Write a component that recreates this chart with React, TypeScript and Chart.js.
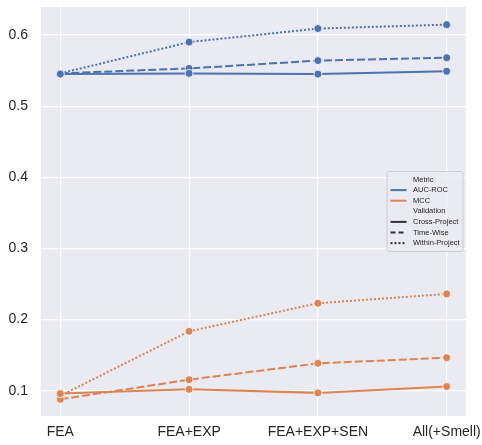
import React, { useEffect, useRef } from "react";
import { Chart, registerables } from "chart.js";

Chart.register(...registerables);

const categories = ["FEA", "FEA+EXP", "FEA+EXP+SEN", "All(+Smell)"];
const yTicks = [0.1, 0.2, 0.3, 0.4, 0.5, 0.6];

const aucCross = [0.545, 0.546, 0.545, 0.549];
const aucTime = [0.546, 0.553, 0.564, 0.568];
const aucWithin = [0.546, 0.59, 0.609, 0.6145];
const mccCross = [0.096, 0.102, 0.097, 0.106];
const mccTime = [0.088, 0.1155, 0.1385, 0.1465];
const mccWithin = [0.093, 0.1835, 0.223, 0.236];

const BLUE = "#4C72B0";
const ORANGE = "#DD8452";
const TEXT = "#262626";
const FONT = "'Liberation Sans', Arial, sans-serif";

const DASHED = [8, 3];
const DOTTED = [2, 2];

function series(label: string, values: number[], color: string, dash: number[]) {
  return {
    label,
    data: values.map((v, i) => ({ x: i, y: v })),
    borderColor: color,
    backgroundColor: color,
    borderWidth: 2,
    borderDash: dash,
    pointRadius: 4,
    pointBorderColor: "#ffffff",
    pointBorderWidth: 0.8,
    pointBackgroundColor: color,
    tension: 0,
  };
}

const bgPlugin = {
  id: "bgPlugin",
  beforeDraw(chart: any) {
    const { ctx, chartArea } = chart;
    ctx.save();
    ctx.fillStyle = "#EAEAF2";
    ctx.fillRect(chartArea.left, chartArea.top, chartArea.right - chartArea.left, chartArea.bottom - chartArea.top);
    ctx.restore();
  },
};

const legendItems: { text: string; color?: string; dash?: number[] }[] = [
  { text: "Metric" },
  { text: "AUC-ROC", color: BLUE, dash: [] },
  { text: "MCC", color: ORANGE, dash: [] },
  { text: "Validation" },
  { text: "Cross-Project", color: "#333333", dash: [] },
  { text: "Time-Wise", color: "#333333", dash: [5, 3] },
  { text: "Within-Project", color: "#333333", dash: [2, 2] },
];

const legendPlugin = {
  id: "customLegend",
  afterDraw(chart: any) {
    const { ctx, chartArea } = chart;
    const w = 76;
    const h = 80;
    const x = chartArea.right - 3 - w;
    const y = (chartArea.top + chartArea.bottom) / 2 - h / 2;
    ctx.save();
    ctx.globalAlpha = 0.8;
    ctx.fillStyle = "#EAEAF2";
    ctx.strokeStyle = "#CCCCCC";
    ctx.lineWidth = 1;
    ctx.beginPath();
    const r = 2;
    ctx.moveTo(x + r, y);
    ctx.lineTo(x + w - r, y);
    ctx.quadraticCurveTo(x + w, y, x + w, y + r);
    ctx.lineTo(x + w, y + h - r);
    ctx.quadraticCurveTo(x + w, y + h, x + w - r, y + h);
    ctx.lineTo(x + r, y + h);
    ctx.quadraticCurveTo(x, y + h, x, y + h - r);
    ctx.lineTo(x, y + r);
    ctx.quadraticCurveTo(x, y, x + r, y);
    ctx.closePath();
    ctx.fill();
    ctx.globalAlpha = 1;
    ctx.stroke();
    ctx.font = `7.5px ${FONT}`;
    ctx.textBaseline = "middle";
    ctx.fillStyle = TEXT;
    const rowH = 10.6;
    legendItems.forEach((it, i) => {
      const cy = y + 8 + i * rowH;
      if (it.color) {
        ctx.strokeStyle = it.color;
        ctx.lineWidth = 2;
        ctx.setLineDash(it.dash || []);
        ctx.beginPath();
        ctx.moveTo(x + 3.5, cy);
        ctx.lineTo(x + 19.5, cy);
        ctx.stroke();
        ctx.setLineDash([]);
      }
      ctx.fillStyle = TEXT;
      ctx.fillText(it.text, x + 26, cy);
    });
    ctx.restore();
  },
};

function zeroPad(scale: any) {
  scale.paddingTop = 0;
  scale.paddingBottom = 0;
  scale.paddingLeft = 0;
  scale.paddingRight = 0;
}

export default function App() {
  const ref = useRef<HTMLCanvasElement | null>(null);
  useEffect(() => {
    if (!ref.current) return;
    const chart = new Chart(ref.current, {
      type: "line",
      data: {
        datasets: [
          series("AUC-ROC Cross-Project", aucCross, BLUE, []),
          series("AUC-ROC Time-Wise", aucTime, BLUE, DASHED),
          series("AUC-ROC Within-Project", aucWithin, BLUE, DOTTED),
          series("MCC Cross-Project", mccCross, ORANGE, []),
          series("MCC Time-Wise", mccTime, ORANGE, DASHED),
          series("MCC Within-Project", mccWithin, ORANGE, DOTTED),
        ],
      },
      options: {
        responsive: false,
        animation: false,
        layout: { padding: { top: 7, right: 16, bottom: 0, left: 0 } },
        plugins: {
          legend: { display: false },
          tooltip: { enabled: false },
        },
        scales: {
          x: {
            type: "linear",
            min: -0.15,
            max: 3.15,
            afterBuildTicks: (scale: any) => {
              scale.ticks = categories.map((_, i) => ({ value: i }));
            },
            afterFit: (scale: any) => {
              scale.height = 29;
              zeroPad(scale);
            },
            grid: { color: "#ffffff", lineWidth: 1.2, drawTicks: false },
            border: { display: false },
            ticks: {
              color: TEXT,
              font: { family: FONT, size: 14 },
              padding: 8,
              maxRotation: 0,
              autoSkip: false,
              callback: (v: any) => categories[Math.round(Number(v))] ?? "",
            },
          },
          y: {
            type: "linear",
            min: 0.0645,
            max: 0.6393,
            afterBuildTicks: (scale: any) => {
              scale.ticks = yTicks.map((v) => ({ value: v }));
            },
            afterFit: (scale: any) => {
              scale.width = 41;
              zeroPad(scale);
            },
            grid: { color: "#ffffff", lineWidth: 1.2, drawTicks: false },
            border: { display: false },
            ticks: {
              color: TEXT,
              font: { family: FONT, size: 14 },
              padding: 13,
              callback: (v: any) => Number(v).toFixed(1),
            },
          },
        },
      },
      plugins: [bgPlugin, legendPlugin],
    } as any);
    return () => chart.destroy();
  }, []);
  return (
    <div style={{ position: "fixed", left: 0, top: 0, width: 482, height: 445, background: "#ffffff" }}>
      <canvas ref={ref} width={482} height={445} style={{ display: "block" }} />
    </div>
  );
}
